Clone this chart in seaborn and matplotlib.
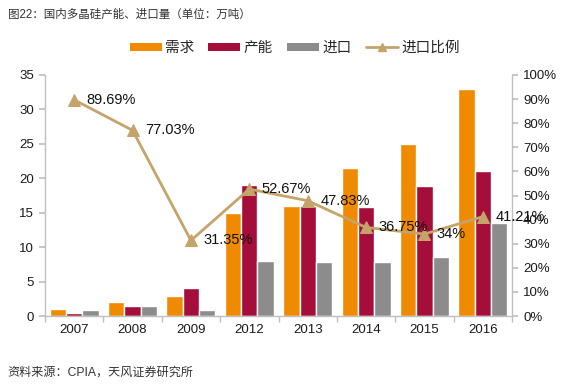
import matplotlib
matplotlib.use("Agg")
import matplotlib.pyplot as plt
from matplotlib.patches import Patch
from matplotlib.lines import Line2D
import numpy as np
import pandas as pd
import seaborn as sns

# 数据（单位：万吨）
years    = ["2007", "2008", "2009", "2012", "2013", "2014", "2015", "2016"]
demand   = [1.0, 2.0, 2.9, 15.0, 16.0, 21.5, 25.0, 33.0]
capacity = [0.5, 1.5, 4.0, 19.0, 16.0, 15.8, 18.9, 21.0]
imports  = [0.9, 1.5, 0.9, 8.0, 7.8, 7.9, 8.5, 13.5]
ratio    = [89.69, 77.03, 31.35, 52.67, 47.83, 36.75, 34, 41.21]
ratio_labels = ["89.69%", "77.03%", "31.35%", "52.67%", "47.83%", "36.75%", "34%", "41.21%"]
series_names = ["需求", "产能", "进口"]
line_name = "进口比例"

COLORS = ["#F08A00", "#A50D3A", "#8C8C8C"]
LINE_COLOR = "#C4A46A"
AXIS_COLOR = "#BFBFBF"

sns.set_theme(style="white")
plt.rcParams["font.family"] = ["Liberation Sans", "Noto Sans CJK SC", "DejaVu Sans"]

df = pd.DataFrame({
    "year": years * 3,
    "value": demand + capacity + imports,
    "series": sum([[s] * len(years) for s in series_names], []),
})

fig = plt.figure(figsize=(5.61, 3.86), dpi=100)
ax = fig.add_axes([0.0802, 0.1813, 0.8325, 0.6244])

sns.barplot(data=df, x="year", y="value", hue="series", palette=COLORS,
            width=0.84, saturation=1, ax=ax, legend=False)
ax.set_ylim(0, 35)
ax.set_yticks(range(0, 36, 5))
ax.set_xlim(-0.5, len(years) - 0.5)
ax.set_xlabel("")
ax.set_ylabel("")

# 进口比例（右轴）
ax2 = ax.twinx()
line_df = pd.DataFrame({"x": np.arange(len(years)), "ratio": np.array(ratio) / 100})
sns.lineplot(data=line_df, x="x", y="ratio", color=LINE_COLOR, linewidth=2,
             marker="^", markersize=8, markeredgecolor=LINE_COLOR, ax=ax2)
ax2.set_ylim(0, 1)
ax2.set_yticks(np.arange(0, 1.01, 0.1))
ax2.set_yticklabels([f"{int(round(v * 100))}%" for v in np.arange(0, 1.01, 0.1)])
ax2.set_xlim(-0.5, len(years) - 0.5)
ax2.set_xlabel("")
ax2.set_ylabel("")

for i, (v, lab) in enumerate(zip(ratio, ratio_labels)):
    ax2.annotate(lab, (i, v / 100), xytext=(9, 0), textcoords="offset points",
                 ha="left", va="center", fontsize=10.5, color="#111111",
                 annotation_clip=False)

# 坐标轴样式
ax.spines["top"].set_visible(False)
ax2.spines["top"].set_visible(False)
for a in (ax, ax2):
    for side in ("left", "right", "bottom"):
        a.spines[side].set_color(AXIS_COLOR)
        a.spines[side].set_linewidth(1)
ax.spines["right"].set_visible(False)
ax2.spines["left"].set_visible(False)
ax2.spines["bottom"].set_visible(False)

ax.tick_params(axis="y", which="major", left=True, length=4, color=AXIS_COLOR,
               labelsize=9.5, labelcolor="#1a1a1a", pad=4)
ax2.tick_params(axis="y", which="major", right=True, length=4, color=AXIS_COLOR,
                labelsize=9.5, labelcolor="#1a1a1a", pad=4)
ax.tick_params(axis="x", which="major", length=0, labelsize=9.5,
               labelcolor="#1a1a1a", pad=6)
ax.set_xticks(np.arange(-0.5, len(years)), minor=True)
ax.tick_params(axis="x", which="minor", bottom=True, length=4, color=AXIS_COLOR)

# 图例
handles = [Patch(facecolor=c, edgecolor="none") for c in COLORS]
handles.append(Line2D([0], [0], color=LINE_COLOR, linewidth=2, marker="^",
                      markersize=6))
fig.legend(handles, series_names + [line_name], loc="center",
           bbox_to_anchor=(0.525, 0.876), ncol=4, frameon=False, fontsize=10.5,
           handlelength=2.2, handleheight=0.5, handletextpad=0.2, columnspacing=1.0)

# 标题与来源
fig.text(0.014, 0.963, "图22：国内多晶硅产能、进口量（单位：万吨）", ha="left", va="center",
         fontsize=8.3, color="#333333")
fig.text(0.014, 0.036, "资料来源：CPIA，天风证券研究所", ha="left", va="center",
         fontsize=8.7, color="#333333")

fig.savefig("out.png", dpi=100)
plt.close(fig)
